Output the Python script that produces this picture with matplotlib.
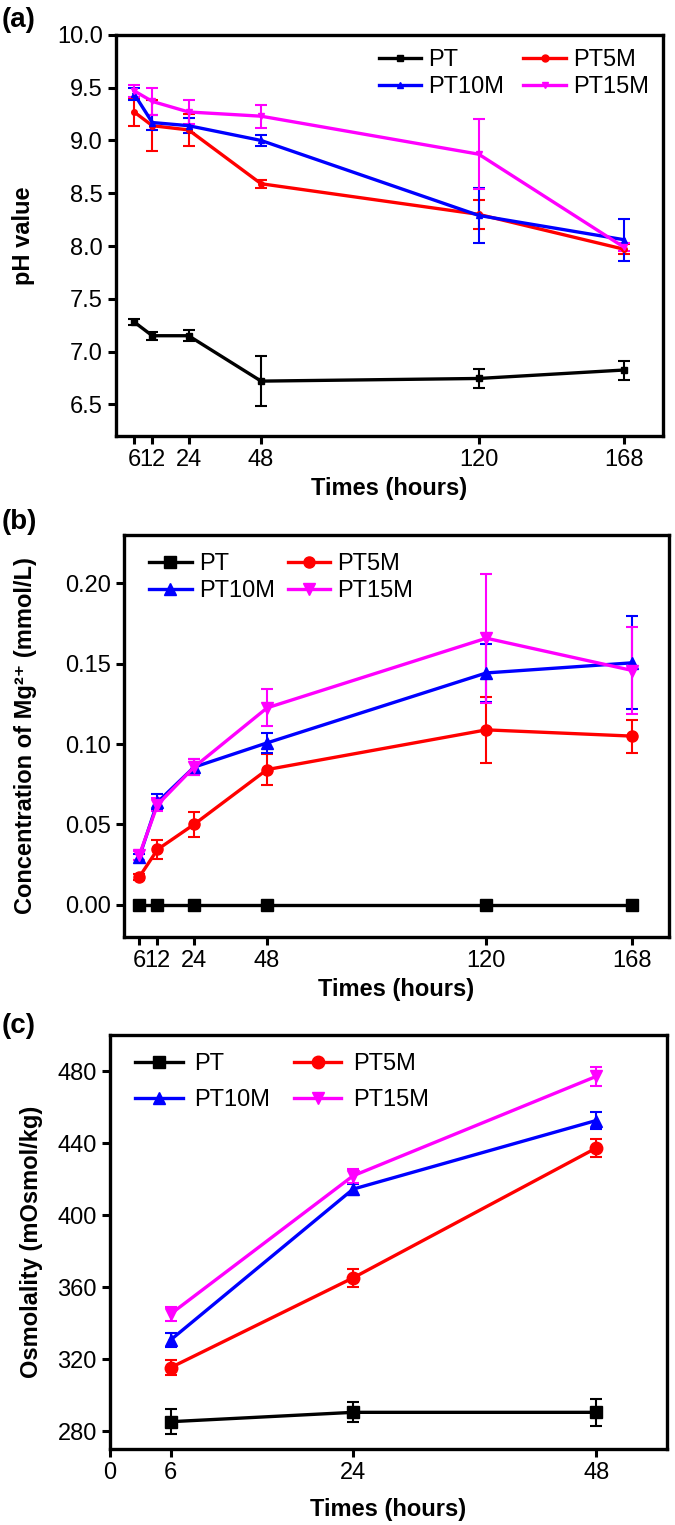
import matplotlib
matplotlib.use("Agg")
import matplotlib.pyplot as plt
from matplotlib.lines import Line2D

plt.rcParams["font.family"] = ["Liberation Sans Narrow", "Liberation Sans", "DejaVu Sans"]

# (a) pH value
hours_a = [6, 12, 24, 48, 120, 168]
ph_pt = [7.28, 7.15, 7.15, 6.72, 6.745, 6.825]
ph_pt_err = [0.03, 0.04, 0.05, 0.24, 0.09, 0.09]
ph_5m = [9.27, 9.14, 9.10, 8.59, 8.30, 7.97]
ph_5m_err = [0.13, 0.24, 0.15, 0.04, 0.14, 0.05]
ph_10m = [9.44, 9.17, 9.14, 9.00, 8.29, 8.06]
ph_10m_err = [0.06, 0.07, 0.07, 0.05, 0.26, 0.20]
ph_15m = [9.47, 9.37, 9.27, 9.23, 8.87, 7.99]
ph_15m_err = [0.06, 0.13, 0.11, 0.11, 0.33, 0.04]

# (b) Mg2+ concentration
hours_b = [6, 12, 24, 48, 120, 168]
mg_pt = [0, 0, 0, 0, 0, 0]
mg_pt_err = [0, 0, 0, 0, 0, 0]
mg_5m = [0.0172, 0.0344, 0.050, 0.0841, 0.1088, 0.1049]
mg_5m_err = [0.002, 0.0057, 0.0078, 0.0098, 0.0206, 0.0103]
mg_10m = [0.0296, 0.0638, 0.0856, 0.1007, 0.1442, 0.1505]
mg_10m_err = [0.002, 0.005, 0.005, 0.006, 0.018, 0.029]
mg_15m = [0.0307, 0.0622, 0.0856, 0.1225, 0.1658, 0.1457]
mg_15m_err = [0.003, 0.004, 0.005, 0.0114, 0.040, 0.027]

# (c) osmolality
hours_c = [6, 24, 48]
os_pt = [285.2, 290.4, 290.4]
os_pt_err = [7.0, 5.6, 7.4]
os_5m = [315.3, 365.1, 437.2]
os_5m_err = [4.0, 5.0, 5.0]
os_10m = [330.7, 414.4, 452.5]
os_10m_err = [3.8, 3.0, 4.6]
os_15m = [345.1, 421.8, 477.0]
os_15m_err = [4.0, 4.0, 5.5]

names = ["PT", "PT5M", "PT10M", "PT15M"]
colors = ["black", "#ff0000", "#0000ff", "#ff00ff"]
markers = ["s", "o", "^", "v"]

fig = plt.figure(figsize=(6.75, 15.25), dpi=100)
ax_a = fig.add_axes([0.1719, 0.7141, 0.8104, 0.2630])
ax_b = fig.add_axes([0.1837, 0.3856, 0.8074, 0.2636])
ax_c = fig.add_axes([0.1630, 0.0498, 0.8252, 0.2715])

tick_fs = 17
label_font = {"family": ["Liberation Sans", "DejaVu Sans"], "weight": "bold", "size": 17}


def draw(ax, x, series, errs, msize, lw=2.4):
    for ys, es, c, m in zip(series, errs, colors, markers):
        ax.errorbar(x, ys, yerr=es, color=c, marker=m, markersize=msize,
                    linewidth=lw, elinewidth=1.5, capsize=4, capthick=1.5)


def add_legend(ax, msize, **kw):
    handles = [Line2D([], [], color=c, marker=m, markersize=msize, linewidth=2.4)
               for c, m in zip(colors, markers)]
    # row-major order: PT, PT5M / PT10M, PT15M
    order = [0, 2, 1, 3]
    ax.legend([handles[i] for i in order], [names[i] for i in order], ncol=2,
              frameon=False, fontsize=tick_fs, **kw)


def style(ax):
    for s in ax.spines.values():
        s.set_linewidth(2.4)
    ax.tick_params(direction="out", width=2.2, length=6, labelsize=tick_fs)


draw(ax_a, hours_a, [ph_pt, ph_5m, ph_10m, ph_15m],
     [ph_pt_err, ph_5m_err, ph_10m_err, ph_15m_err], 4)
ax_a.set_xlim(0, 181)
ax_a.set_ylim(6.2, 10.0)
ax_a.set_xticks(hours_a)
ax_a.set_xticklabels(["6", "12", "24", "48", "120", "168"])
ax_a.set_yticks([6.5, 7.0, 7.5, 8.0, 8.5, 9.0, 9.5, 10.0])
ax_a.set_yticklabels(["6.5", "7.0", "7.5", "8.0", "8.5", "9.0", "9.5", "10.0"])
style(ax_a)
ax_a.set_xlabel("Times (hours)", fontdict=label_font, labelpad=4)
ax_a.set_ylabel("pH value", fontdict=label_font)
ax_a.yaxis.set_label_coords(-0.148, 0.5)
add_legend(ax_a, 5, loc="upper right", bbox_to_anchor=(1.0, 1.0),
           handlelength=1.8, handletextpad=0.3, columnspacing=0.8,
           labelspacing=0.2, borderaxespad=0.2)

draw(ax_b, hours_b, [mg_pt, mg_5m, mg_10m, mg_15m],
     [mg_pt_err, mg_5m_err, mg_10m_err, mg_15m_err], 8)
ax_b.set_xlim(1, 180)
ax_b.set_ylim(-0.02, 0.23)
ax_b.set_xticks(hours_b)
ax_b.set_xticklabels(["6", "12", "24", "48", "120", "168"])
ax_b.set_yticks([0.0, 0.05, 0.10, 0.15, 0.20])
ax_b.set_yticklabels(["0.00", "0.05", "0.10", "0.15", "0.20"])
style(ax_b)
ax_b.set_xlabel("Times (hours)", fontdict=label_font, labelpad=4)
ax_b.set_ylabel("Concentration of Mg²⁺ (mmol/L)", fontdict=label_font)
ax_b.yaxis.set_label_coords(-0.16, 0.5)
add_legend(ax_b, 8, loc="upper left", bbox_to_anchor=(0.02, 0.99),
           handlelength=1.8, handletextpad=0.3, columnspacing=0.55,
           labelspacing=0.2, borderaxespad=0.2)

draw(ax_c, hours_c, [os_pt, os_5m, os_10m, os_15m],
     [os_pt_err, os_5m_err, os_10m_err, os_15m_err], 9)
ax_c.set_xlim(0, 55)
ax_c.set_ylim(270, 500)
ax_c.set_xticks([0, 6, 24, 48])
ax_c.set_yticks([280, 320, 360, 400, 440, 480])
style(ax_c)
ax_c.set_xlabel("Times (hours)", fontdict=label_font, labelpad=10)
ax_c.set_ylabel("Osmolality (mOsmol/kg)", fontdict=label_font)
ax_c.yaxis.set_label_coords(-0.12, 0.5)
add_legend(ax_c, 9, loc="upper left", bbox_to_anchor=(0.02, 0.99),
           handlelength=2.0, handletextpad=0.5, columnspacing=1.0,
           labelspacing=0.6, borderaxespad=0.2)

fig.text(0.003, 0.987, "(a)", fontsize=20, fontweight="bold",
         family=["Liberation Sans", "DejaVu Sans"], va="center")
fig.text(0.003, 0.658, "(b)", fontsize=20, fontweight="bold",
         family=["Liberation Sans", "DejaVu Sans"], va="center")
fig.text(0.003, 0.327, "(c)", fontsize=20, fontweight="bold",
         family=["Liberation Sans", "DejaVu Sans"], va="center")

fig.savefig("out.png", dpi=100)
